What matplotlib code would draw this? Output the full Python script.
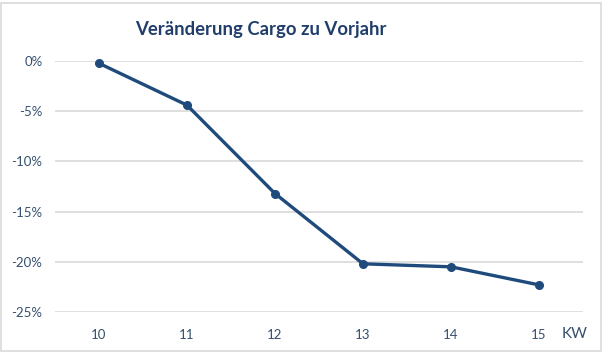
import matplotlib
matplotlib.use("Agg")
import matplotlib.pyplot as plt
from matplotlib.patches import Rectangle
from matplotlib.ticker import FuncFormatter

weeks = ["10", "11", "12", "13", "14", "15"]
change = [-0.23, -4.4, -13.2, -20.2, -20.5, -22.3]
yticks = [0, -5, -10, -15, -20, -25]

plt.rcParams['font.family'] = ['Lato', 'DejaVu Sans']

W, H = 603, 352
fig = plt.figure(figsize=(W / 100, H / 100), dpi=100)
ax = fig.add_axes([55 / W, 40 / H, (583 - 55) / W, (312 - 61) / H])

line_color = '#1F4A7C'
text_color = '#34506F'
x = list(range(len(weeks)))
ax.plot(x, change, color=line_color, lw=2.4, marker='o', ms=5.5,
        clip_on=False, zorder=3, solid_capstyle='round')

ax.set_xlim(-0.5, len(weeks) - 0.5)
ax.set_ylim(-25, 0)
ax.set_yticks(yticks)
ax.yaxis.set_major_formatter(FuncFormatter(lambda v, p: f"{int(round(v))}%"))
ax.set_xticks(x)
ax.set_xticklabels(weeks)
ax.grid(axis='y', color='#D9D9D9', lw=1.2)
ax.set_axisbelow(True)
for s in ax.spines.values():
    s.set_visible(False)
ax.tick_params(axis='both', length=0, labelsize=9.5, labelcolor=text_color)
ax.tick_params(axis='y', pad=9)
ax.tick_params(axis='x', pad=12)

fig.text(575 / W, 1 - 334 / H, "KW", ha='center', va='center',
         fontsize=11, color=text_color)
fig.text(261 / W, 1 - 30 / H, "Veränderung Cargo zu Vorjahr", ha='center',
         va='center', fontsize=13.3, fontweight='bold', color='#213E6B')

fig.patches.append(Rectangle((0.5 / W, 1.5 / H), (W - 3) / W, (H - 4) / H,
                             transform=fig.transFigure, fill=False,
                             edgecolor='#D9D9D9', lw=1.2))

fig.savefig("out.png", dpi=100)
